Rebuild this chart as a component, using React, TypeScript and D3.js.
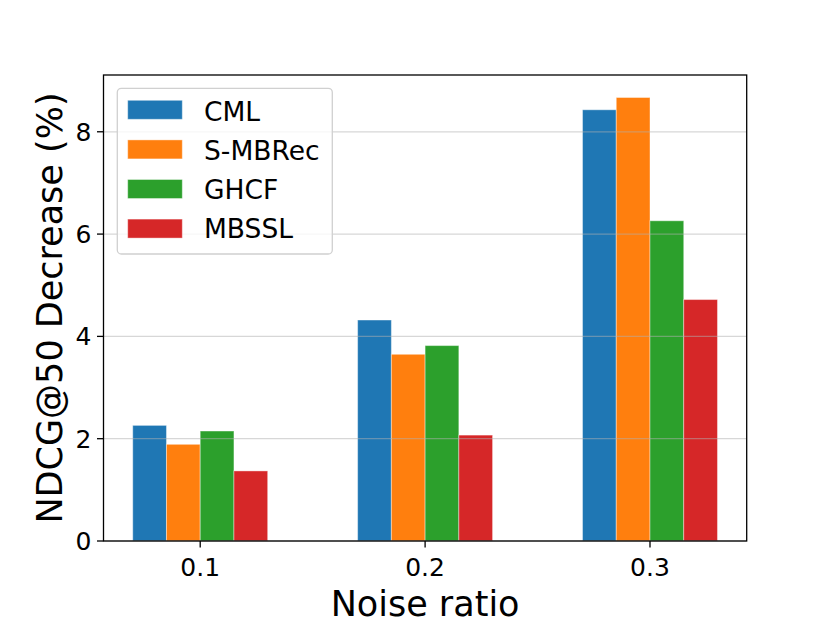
import React from 'react';
import * as d3 from 'd3';

const categories = ['0.1', '0.2', '0.3'];
const methods = ['CML', 'S-MBRec', 'GHCF', 'MBSSL'];
const cml = [2.26, 4.32, 8.43];
const sMBRec = [1.89, 3.65, 8.67];
const ghcf = [2.15, 3.82, 6.26];
const mbssl = [1.37, 2.07, 4.72];
const series = [cml, sMBRec, ghcf, mbssl];
const colors = ['#1f77b4', '#ff7f0e', '#2ca02c', '#d62728'];
const yTicks = [0, 2, 4, 6, 8];

const W = 830;
const H = 623;
const margin = { left: 103.5, right: 83.3, top: 75, bottom: 82 };
const barW = 0.15;
const font = '"DejaVu Sans", sans-serif';

export default function App() {
  const x = d3.scaleLinear().domain([-0.43, 2.43]).range([margin.left, W - margin.right]);
  const y = d3.scaleLinear().domain([0, 9.11]).range([H - margin.bottom, margin.top]);
  const bw = x(barW) - x(0);
  const x0 = x.range()[0], x1 = x.range()[1];
  const y0 = y.range()[0], y1 = y.range()[1];

  return (
    <svg width={W} height={H} style={{ position: 'absolute', left: 0, top: 0, background: '#fff' }} fontFamily={font}>
      {/* bars */}
      {series.map((vals, si) => (
        <g key={methods[si]} fill={colors[si]}>
          {vals.map((v, ci) => (
            <rect key={ci}
              x={x(ci + (si - 1.5) * barW) - bw / 2}
              y={y(v)}
              width={bw}
              height={y(0) - y(v)}
              stroke="#fff" strokeOpacity={0.4} strokeWidth={1} />
          ))}
        </g>
      ))}
      {/* grid on top of the bars */}
      {yTicks.map(t => (
        <line key={t} x1={x0} x2={x1} y1={y(t)} y2={y(t)} stroke="#b0b0b0" strokeOpacity={0.5} strokeWidth={1.3} />
      ))}
      <rect x={x0} y={y1} width={x1 - x0} height={y0 - y1} fill="none" stroke="#000" strokeWidth={1.3} />
      {yTicks.map(t => (
        <g key={t}>
          <line x1={x0 - 6.5} x2={x0} y1={y(t)} y2={y(t)} stroke="#000" strokeWidth={1.3} />
          <text x={x0 - 12} y={y(t)} dy="0.36em" textAnchor="end" fontSize={25}>{t}</text>
        </g>
      ))}
      {categories.map((c, i) => (
        <g key={c}>
          <line x1={x(i)} x2={x(i)} y1={y0} y2={y0 + 6.5} stroke="#000" strokeWidth={1.3} />
          <text x={x(i)} y={576} textAnchor="middle" fontSize={25}>{c}</text>
        </g>
      ))}
      <text x={(x0 + x1) / 2} y={616} textAnchor="middle" fontSize={35}>Noise ratio</text>
      <text transform={`translate(62,${(y0 + y1) / 2}) rotate(-90)`} textAnchor="middle" fontSize={35}>NDCG@50 Decrease (%)</text>
      {/* legend */}
      <rect x={117.3} y={88.3} width={215} height={165.7} rx={4} fill="#fff" fillOpacity={0.8} stroke="#d0d0d0" strokeWidth={1.3} />
      {methods.map((m, i) => (
        <g key={m}>
          <rect x={127.7} y={100.3 + i * 39.6} width={54.6} height={19} fill={colors[i]} stroke="#fff" strokeOpacity={0.4} />
          <text x={204} y={120.5 + i * 39.2} fontSize={26.5}>{m}</text>
        </g>
      ))}
    </svg>
  );
}
